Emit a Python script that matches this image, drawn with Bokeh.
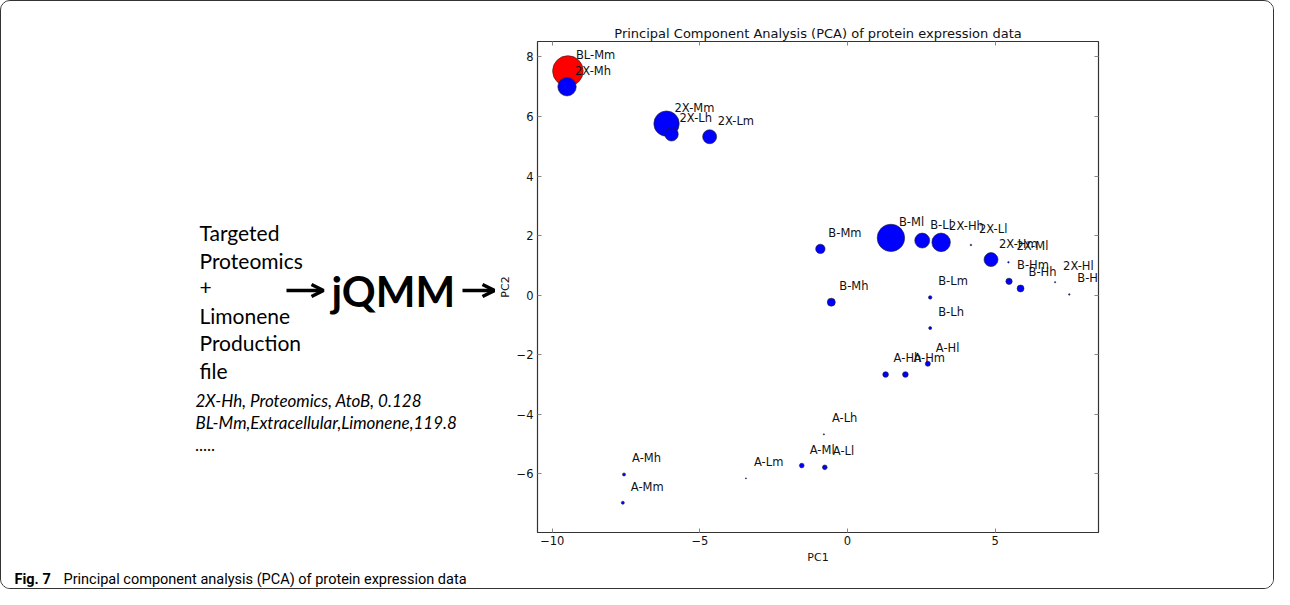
import math
from bokeh.plotting import figure
from bokeh.layouts import column, row
from bokeh.models import (ColumnDataSource, Arrow, OpenHead, LinearAxis,
                          FixedTicker, Range1d)
from bokeh.embed import file_html
from bokeh.resources import INLINE
from bokeh.core.properties import value

# ---------------- data ----------------
samples = ["BL-Mm", "2X-Mh", "2X-Mm", "2X-Lh", "2X-Lm", "B-Mm", "B-Ml", "B-Ll",
           "2X-Hh", "2X-Ll", "2X-Hm", "2X-Ml", "B-Hm", "B-Hh", "2X-Hl", "B-Hl",
           "B-Lm", "B-Lh", "B-Mh", "A-Hl", "A-Hm", "A-Hh", "A-Lh", "A-Ml",
           "A-Ll", "A-Lm", "A-Mh", "A-Mm"]
pc1 = [-9.47, -9.50, -6.13, -5.96, -4.67, -0.92, 1.47, 2.53,
       3.17, 4.18, 4.86, 5.45, 5.47, 5.86, 7.03, 7.51,
       2.80, 2.80, -0.55, 2.72, 1.96, 1.29, -0.80, -1.55,
       -0.77, -3.44, -7.57, -7.61]
pc2 = [7.53, 7.00, 5.76, 5.40, 5.32, 1.55, 1.92, 1.83,
       1.77, 1.68, 1.19, 1.10, 0.46, 0.22, 0.43, 0.02,
       -0.08, -1.11, -0.24, -2.31, -2.67, -2.67, -4.68, -5.73,
       -5.79, -6.16, -6.03, -6.98]
# relative production level (drives bubble area)
production = [234, 85, 161, 45, 49, 22, 188, 56,
              86, 0.6, 49, 0.6, 10, 12, 0.4, 0.6,
              3, 2.3, 16, 6.3, 8, 8, 0.4, 5.5,
              5.5, 0.3, 2.3, 2.3]

x_ticks = [-10, -5, 0, 5]
y_ticks = [-6, -4, -2, 0, 2, 4, 6, 8]

title_text = "Principal Component Analysis (PCA) of protein expression data"
left_lines = ["Targeted", "Proteomics", "+", "Limonene", "Production", "file"]
example_lines = ["2X-Hh, Proteomics, AtoB, 0.128",
                 "BL-Mm,Extracellular,Limonene,119.8",
                 "....."]
caption_bold = "Fig. 7"
caption_text = "Principal component analysis (PCA) of protein expression data"

# ---------------- layout geometry (page pixels) ----------------
TOTAL_W, TOTAL_H = 1272, 587     # inside a 1px border
WL = 494                         # left panel width
WP = TOTAL_W - WL                # plot panel width
HT = 566                         # top row height
HC = TOTAL_H - HT                # caption height
OX, OY = 1, 1                    # content origin on the page
B_TOP, B_BOT = 40, 35            # borders around the PCA frame


def blank_fig(w, h, x0, y0, top=0, bottom=0):
    f = figure(width=w, height=h, output_backend="svg", toolbar_location=None,
               x_range=Range1d(x0, x0 + w),
               y_range=Range1d(y0 + h - bottom, y0 + top),
               min_border_left=0, min_border_right=0,
               min_border_top=top, min_border_bottom=bottom)
    f.axis.visible = False
    f.grid.visible = False
    f.outline_line_color = None
    f.background_fill_color = "white"
    f.border_fill_color = "white"
    return f


# ---------------- left panel ----------------
left = blank_fig(WL, HT, OX, OY, top=B_TOP, bottom=B_BOT)
left.text(x=[199] * len(left_lines), y=[232 + i * 27.5 for i in range(len(left_lines))],
          text=left_lines, text_font=value("Lato"), text_font_size="21px",
          text_baseline="middle", text_align="left", text_color="black")
left.text(x=[331], y=[290], text=["jQMM"], text_font=value("Lato"),
          text_font_size="42px", text_font_style="bold",
          text_baseline="middle", text_align="left", text_color="black")
for x0, x1 in ((286, 323), (462, 494)):
    left.add_layout(Arrow(x_start=x0, y_start=290, x_end=x1, y_end=290,
                          line_width=3.5, line_color="black",
                          end=OpenHead(size=12, line_width=3.5, line_color="black")))
left.text(x=[195] * len(example_lines), y=[400 + i * 22 for i in range(len(example_lines))],
          text=example_lines, text_font=value("Lato"), text_font_size="17px",
          text_font_style="italic", text_baseline="middle", text_align="left",
          text_color="black")

# ---------------- PCA plot ----------------
source = ColumnDataSource(dict(
    x=pc1, y=pc2, name=samples,
    size=[2 * math.sqrt(v) for v in production],
    color=["#ff0000" if s.startswith("BL") else "#0000ff" for s in samples],
))

p = figure(width=WP, height=HT, output_backend="svg", toolbar_location=None,
           x_range=Range1d(-10.5, 8.5), y_range=Range1d(-7.98, 8.52),
           min_border_left=42, min_border_right=WP - 42 - 561,
           min_border_top=B_TOP, min_border_bottom=B_BOT,
           title=title_text)
p.background_fill_color = "white"
p.border_fill_color = "white"
p.outline_line_color = "#333333"
p.outline_line_width = 1.2
p.grid.visible = False

p.title.align = "center"
p.title.text_font = "DejaVu Sans"
p.title.text_font_size = "13px"
p.title.text_font_style = "normal"
p.title.text_color = "#111111"
p.title.standoff = 2


def minus(t):
    return ("\u2212" + str(-t)) if t < 0 else str(t)


for ax, ticks in ((p.xaxis[0], x_ticks), (p.yaxis[0], y_ticks)):
    ax.ticker = FixedTicker(ticks=ticks)
    ax.major_label_overrides = {t: minus(t) for t in ticks}
    ax.axis_line_color = None
    ax.major_tick_in = 4
    ax.major_tick_out = 0
    ax.major_tick_line_color = "#888888"
    ax.minor_tick_line_color = None
    ax.major_label_text_font = "DejaVu Sans"
    ax.major_label_text_font_size = "11.5px"
    ax.major_label_text_color = "#111111"
    ax.axis_label_text_font = "DejaVu Sans"
    ax.axis_label_text_font_size = "11px"
    ax.axis_label_text_font_style = "normal"
    ax.axis_label_text_color = "#111111"

p.xaxis.axis_label = "PC1"
p.yaxis.axis_label = "PC2"
p.xaxis.major_label_standoff = 3
p.yaxis.major_label_standoff = 4
p.xaxis.axis_label_standoff = 3
p.yaxis.axis_label_standoff = 2

for loc, ticks in (("above", x_ticks), ("right", y_ticks)):
    ax = LinearAxis(ticker=FixedTicker(ticks=ticks))
    ax.axis_line_color = None
    ax.major_tick_in = 4
    ax.major_tick_out = 0
    ax.major_tick_line_color = "#888888"
    ax.minor_tick_line_color = None
    ax.major_label_text_font_size = "1px"
    ax.major_label_text_alpha = 0
    ax.major_label_standoff = 0
    p.add_layout(ax, loc)

p.scatter("x", "y", size="size", source=source, fill_color="color",
          line_color="#222222", line_width=0.6)
p.text("x", "y", text="name", source=source, x_offset=8, y_offset=-16,
       text_align="left", text_baseline="alphabetic",
       text_font=value("DejaVu Sans"), text_font_size="11.5px",
       text_color="#111111")

# ---------------- caption ----------------
cap = blank_fig(TOTAL_W, HC, OX, OY + HT)
cap.text(x=[14], y=[579], text=[caption_bold], text_font=value("Roboto"),
         text_font_size="14.5px", text_font_style="bold", text_baseline="middle",
         text_align="left", text_color="black")
cap.text(x=[63], y=[579], text=[caption_text], text_font=value("Roboto"),
         text_font_size="14.5px", text_baseline="middle", text_align="left",
         text_color="black")

layout = column(row(left, p, spacing=0), cap, spacing=0,
                styles={"border": "1px solid #333333", "border-radius": "10px",
                        "overflow": "hidden", "background-color": "white"})

open("out.html", "w").write(file_html(layout, INLINE))
